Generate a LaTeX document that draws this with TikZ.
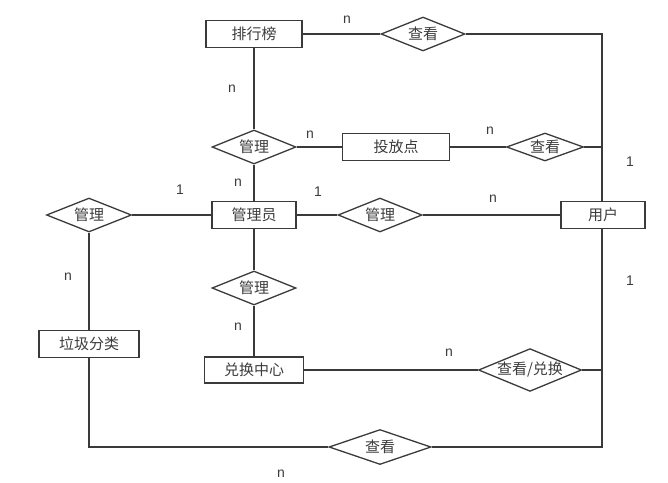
\documentclass[tikz,border=0pt]{standalone}
\usepackage{fontspec}
\setmainfont{Liberation Sans}
\newfontfamily\cjk{Noto Sans CJK SC}
\usetikzlibrary{shapes.geometric}
\definecolor{ln}{HTML}{3A3A3A}
\definecolor{tx}{HTML}{3C3C3C}
\tikzset{
  ent/.style={draw=ln, line width=1.3pt, rectangle, minimum height=27pt, inner sep=0pt, font=\cjk\fontsize{15}{17}\selectfont, text=tx},
  rel/.style={draw=ln, line width=1.3pt, diamond, aspect=2.4, inner sep=0pt, minimum width=84pt, minimum height=34pt, font=\cjk\fontsize{15}{17}\selectfont, text=tx},
  lnk/.style={draw=ln, line width=1.3pt},
  card/.style={font=\fontsize{14}{16}\selectfont, text=tx, inner sep=0pt}
}
\begin{document}
\begin{tikzpicture}[x=1pt,y=-1pt]
\useasboundingbox (0,0) rectangle (668,482);
% entities
\node[ent, minimum width=96pt] (rank) at (254,34) {排行榜};
\node[ent, minimum width=107pt] (drop) at (396,147) {投放点};
\node[ent, minimum width=84pt] (admin) at (254,215) {管理员};
\node[ent, minimum width=84pt] (user) at (603,215) {用户};
\node[ent, minimum width=100pt] (trash) at (89,344) {垃圾分类};
\node[ent, minimum width=99pt, minimum height=26pt] (exch) at (254,370) {兑换中心};
% relations
\node[rel] (vtop) at (423,34) {查看};
\node[rel] (m1) at (254,147) {管理};
\node[rel, minimum width=77pt, minimum height=28pt] (v2) at (545,147) {查看};
\node[rel] (mm) at (380,215) {管理};
\node[rel, minimum width=85pt] (ml) at (89,215) {管理};
\node[rel] (m3) at (254,288) {管理};
\node[rel, minimum width=103pt, minimum height=35pt] (vx) at (530,370) {查看/兑换};
\node[rel, minimum width=102pt, minimum height=35pt] (vb) at (380,447) {查看};
% corner coordinates
\coordinate (c1) at (602,34);
\coordinate (c2) at (602,447);
\coordinate (c3) at (89,447);
% connectors
\draw[lnk] (rank.east) -- (vtop.west);
\draw[lnk] (vtop.east) -- (c1) -- (user.north -| c1);
\draw[lnk] (rank.south) -- (m1.north);
\draw[lnk] (m1.east) -- (drop.west);
\draw[lnk] (m1.south) -- (admin.north);
\draw[lnk] (drop.east) -- (v2.west);
\draw[lnk] (v2.east) -- (v2.east -| c1);
\draw[lnk] (admin.west) -- (ml.east);
\draw[lnk] (ml.south) -- (trash.north);
\draw[lnk] (admin.east) -- (mm.west);
\draw[lnk] (mm.east) -- (user.west);
\draw[lnk] (admin.south) -- (m3.north);
\draw[lnk] (m3.south) -- (exch.north);
\draw[lnk] (exch.east) -- (vx.west);
\draw[lnk] (vx.east) -- (vx.east -| c1);
\draw[lnk] (user.south -| c1) -- (c2) -- (vb.east);
\draw[lnk] (vb.west) -- (c3) -- (trash.south);
% cardinalities
\node[card] (n1) at (347,20) {n};
\node[card] (n2) at (232,89) {n};
\node[card] (n3) at (310,135) {n};
\node[card] (n4) at (490,131) {n};
\node[card] (o1) at (630,162) {1};
\node[card] (n5) at (238,183) {n};
\node[card] (o2) at (318,192) {1};
\node[card] (n6) at (493,199) {n};
\node[card] (o3) at (180,190) {1};
\node[card] (n7) at (68,277) {n};
\node[card] (n8) at (238,327) {n};
\node[card] (o4) at (630,281) {1};
\node[card] (n9) at (449,353) {n};
\node[card] (n10) at (281,474) {n};
\end{tikzpicture}
\end{document}
